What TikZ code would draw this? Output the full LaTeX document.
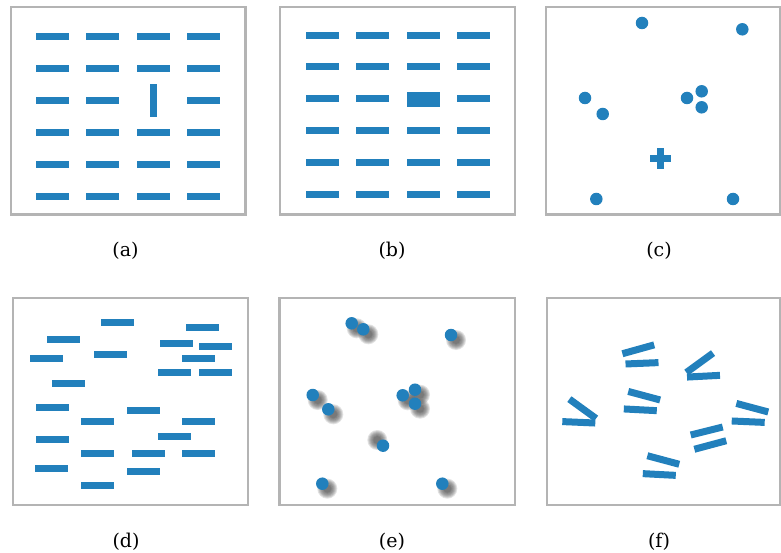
\documentclass[tikz,border=0pt]{standalone}
\usepackage{fontspec}
\newfontfamily\panelfont{DejaVu Serif}
\usepackage{xcolor}
\usepackage{tikz}
\definecolor{barBlue}{HTML}{2280BC}
\definecolor{frameGray}{HTML}{B4B4B4}
\definecolor{shadowGray}{HTML}{333333}

\begin{document}
\begin{tikzpicture}[x=1pt,y=-1pt,
  panel/.style={draw=frameGray,line width=2.3pt},
  bar/.style={fill=barBlue,inner sep=0pt,minimum width=33pt,minimum height=7pt},
  dot/.style={circle,fill=barBlue,inner sep=0pt,minimum size=12.5pt},
  sublabel/.style={anchor=base,inner sep=0pt,font=\panelfont\fontsize{19}{21}\selectfont}]
\useasboundingbox (0,0) rectangle (781,553);
% frames
\draw[panel] (11,7) rectangle (245.5,214.5);
\draw[panel] (279.7,7) rectangle (514.8,214.5);
\draw[panel] (546.2,7) rectangle (779.8,214.5);
\draw[panel] (12.8,298.2) rectangle (247.8,505.2);
\draw[panel] (279.5,298.2) rectangle (515.2,505.2);
\draw[panel] (547.2,298.2) rectangle (779.8,505.2);
% (a) grid with one vertical bar
\foreach \c/\x in {1/52.5,2/102.5,3/153.5,4/203.5}{
  \foreach \r/\y in {1/36.5,2/68.5,3/100.5,4/132.5,5/164.5,6/196.5}{
    \ifnum\c\r=33 \node[bar,rotate=90] (a-\c-\r) at (\x,\y) {};
    \else \node[bar] (a-\c-\r) at (\x,\y) {};
    \fi}}
% (b) grid with one thick bar
\foreach \c/\x in {1/322.5,2/372.5,3/423.5,4/473.5}{
  \foreach \r/\y in {1/35.5,2/66.5,3/98.5,4/130.5,5/162.5,6/194.5}{
    \ifnum\c\r=33 \node[bar,minimum height=15pt] (b-\c-\r) at (\x,\y+1) {};
    \else \node[bar] (b-\c-\r) at (\x,\y) {};
    \fi}}
% (c) dots and a cross
\foreach \n/\x/\y in {1/642/23,2/742.3/29.3,3/585/98,4/602.7/114,5/687/98,
                      6/701.7/91.3,7/701.7/107.3,8/596.3/199,9/733/199}
  \node[dot] (c\n) at (\x,\y) {};
\node[bar,minimum width=21pt,minimum height=7.5pt] (c-plus) at (660.3,158.7) {};
\node[bar,minimum width=7.5pt,minimum height=21pt] (c-plus-v) at (c-plus) {};
% (d) scattered bars
\foreach \n/\x/\y in {1/117.5/322.5,2/202.5/327.5,3/63.5/339.5,4/176.5/343.5,
                      5/215.5/346.5,6/46.5/358.5,7/110.5/354.5,8/198.5/358.5,
                      9/174.5/372.5,10/215.5/372.5,11/68.5/383.5,12/52.5/407.5,
                      13/143.5/410.5,14/97.5/421.5,15/198.5/421.5,16/174.5/436.5,
                      17/52.5/439.5,18/97.5/453.5,19/148.5/453.5,20/198.5/453.5,
                      21/51.5/468.5,22/143.5/471.5,23/97.5/485.5}
  \node[bar] (d\n) at (\x,\y) {};
% (e) dots with blurred shadows
\foreach \x/\y/\s in {351.7/323.3/5,363.3/329.3/5,451/335/5,312.7/395/5,
                      328.3/409.3/5,402.7/395.3/5,415/389.7/5,415/403.7/5,
                      383/445.7/-5.7,322.3/483.7/5,442.3/483.7/5}
  \foreach \rr in {10,9,...,4}
    \fill[shadowGray,opacity=.14] (\x+\s,\y+\s) circle (\rr pt);
\foreach \n/\x/\y in {1/351.7/323.3,2/363.3/329.3,3/451/335,4/312.7/395,
                      5/328.3/409.3,6/402.7/395.3,7/415/389.7,8/415/403.7,
                      9/383/445.7,10/322.3/483.7,11/442.3/483.7}
  \node[dot] (e\n) at (\x,\y) {};
% (f) tilted bar pairs
\foreach \n/\x/\y/\a in {1/638.3/349.3/15.6,2/642/363.3/2.4,3/699.7/362.8/36,
                         4/703.5/376.2/3,5/582.7/408.8/-36,6/578.8/422.3/-2.5,
                         7/644.2/395.7/-15,8/640.3/409.8/-3,9/752.3/407.7/-15,
                         10/748.2/421.7/-2.5,11/706.7/431/14,12/710.3/445/15,
                         13/663.3/460/-15,14/659.3/474.5/-3}
  \node[bar,rotate=\a] (f\n) at (\x,\y) {};
% captions
\node[sublabel] (lab-a) at (125.5,256.5) {(a)};
\node[sublabel] (lab-b) at (392,256.5) {(b)};
\node[sublabel] (lab-c) at (659,256.5) {(c)};
\node[sublabel] (lab-d) at (126,547.5) {(d)};
\node[sublabel] (lab-e) at (392,547.5) {(e)};
\node[sublabel] (lab-f) at (659,547.5) {(f)};
\end{tikzpicture}
\end{document}
